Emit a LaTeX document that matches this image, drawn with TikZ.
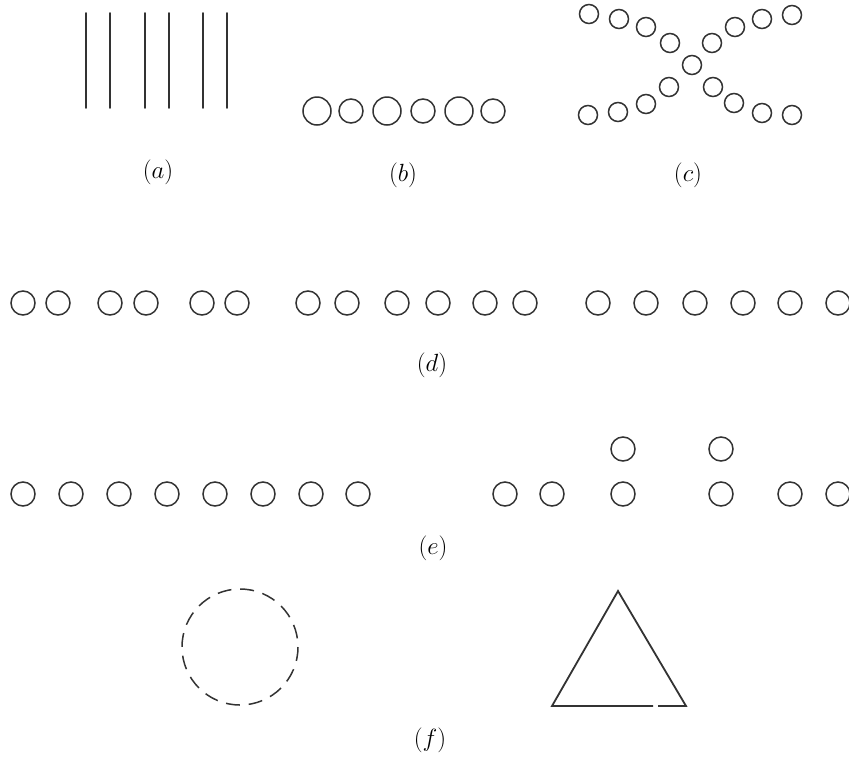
\documentclass[tikz,border=0pt]{standalone}
\usepackage{amsmath,amssymb}
\usepackage{tikz}

\tikzset{
  ring/.style={line width=1.5pt, draw=black!80},
  bar/.style={line width=1.8pt, draw=black!80},
  caption/.style={font=\fontsize{24}{28}\selectfont, inner sep=0pt},
}

\begin{document}
\begin{tikzpicture}[x=1pt, y=-1pt, line cap=round]
  \useasboundingbox (0,0) rectangle (849,756);
  % (a) vertical bars
  \foreach \x in {86,110,145,169,203,227}
    \draw[bar] (\x,13) -- (\x,108);
  \node[caption] (capa) at (158,172) {$(a)$};
  % (b) big and small rings
  \foreach \x/\r in {317/14,351/12,387/14,423/12,459/14,493/12}
    \draw[ring] (\x,111) circle (\r);
  \node[caption] (capb) at (403,175) {$(b)$};
  % (c) crossing rows
  \foreach \x/\y in {589/14,619/19,646/27,670/43,692/65,712/43,735/27,762/19,792/15,
                     669/87,646/104,618/112,588/115,713/87,734/103,762/113,792/115}
    \draw[ring] (\x,\y) circle (9.5);
  \node[caption] (capc) at (688,175) {$(c)$};
  % (d) pairs, then even spacing
  \foreach \x in {23,58,110,146,202,237,308,347,397,438,485,525,598,646,695,743,790,838}
    \draw[ring] (\x,303) circle (12);
  \node[caption] (capd) at (432,365) {$(d)$};
  % (e) one row, then a row with two raised rings
  \foreach \x in {23,71,119,167,215,263,311,358,505,552,623,721,790,838}
    \draw[ring] (\x,494) circle (12);
  \draw[ring] (623,449) circle (12);
  \draw[ring] (721,449) circle (12);
  \node[caption] (cape) at (433,548) {$(e)$};
  % (f) broken circle and triangle
  \draw[ring, line cap=butt, dash pattern=on 14pt off 8.78pt] (240,647) circle (58);
  \draw[ring, line width=1.8pt, line cap=butt, line join=miter] (658,706) -- (686,706) -- (618,591) -- (552,706) -- (653,706);
  \node[caption] (capf) at (430,740) {$(f)$};
\end{tikzpicture}
\end{document}
